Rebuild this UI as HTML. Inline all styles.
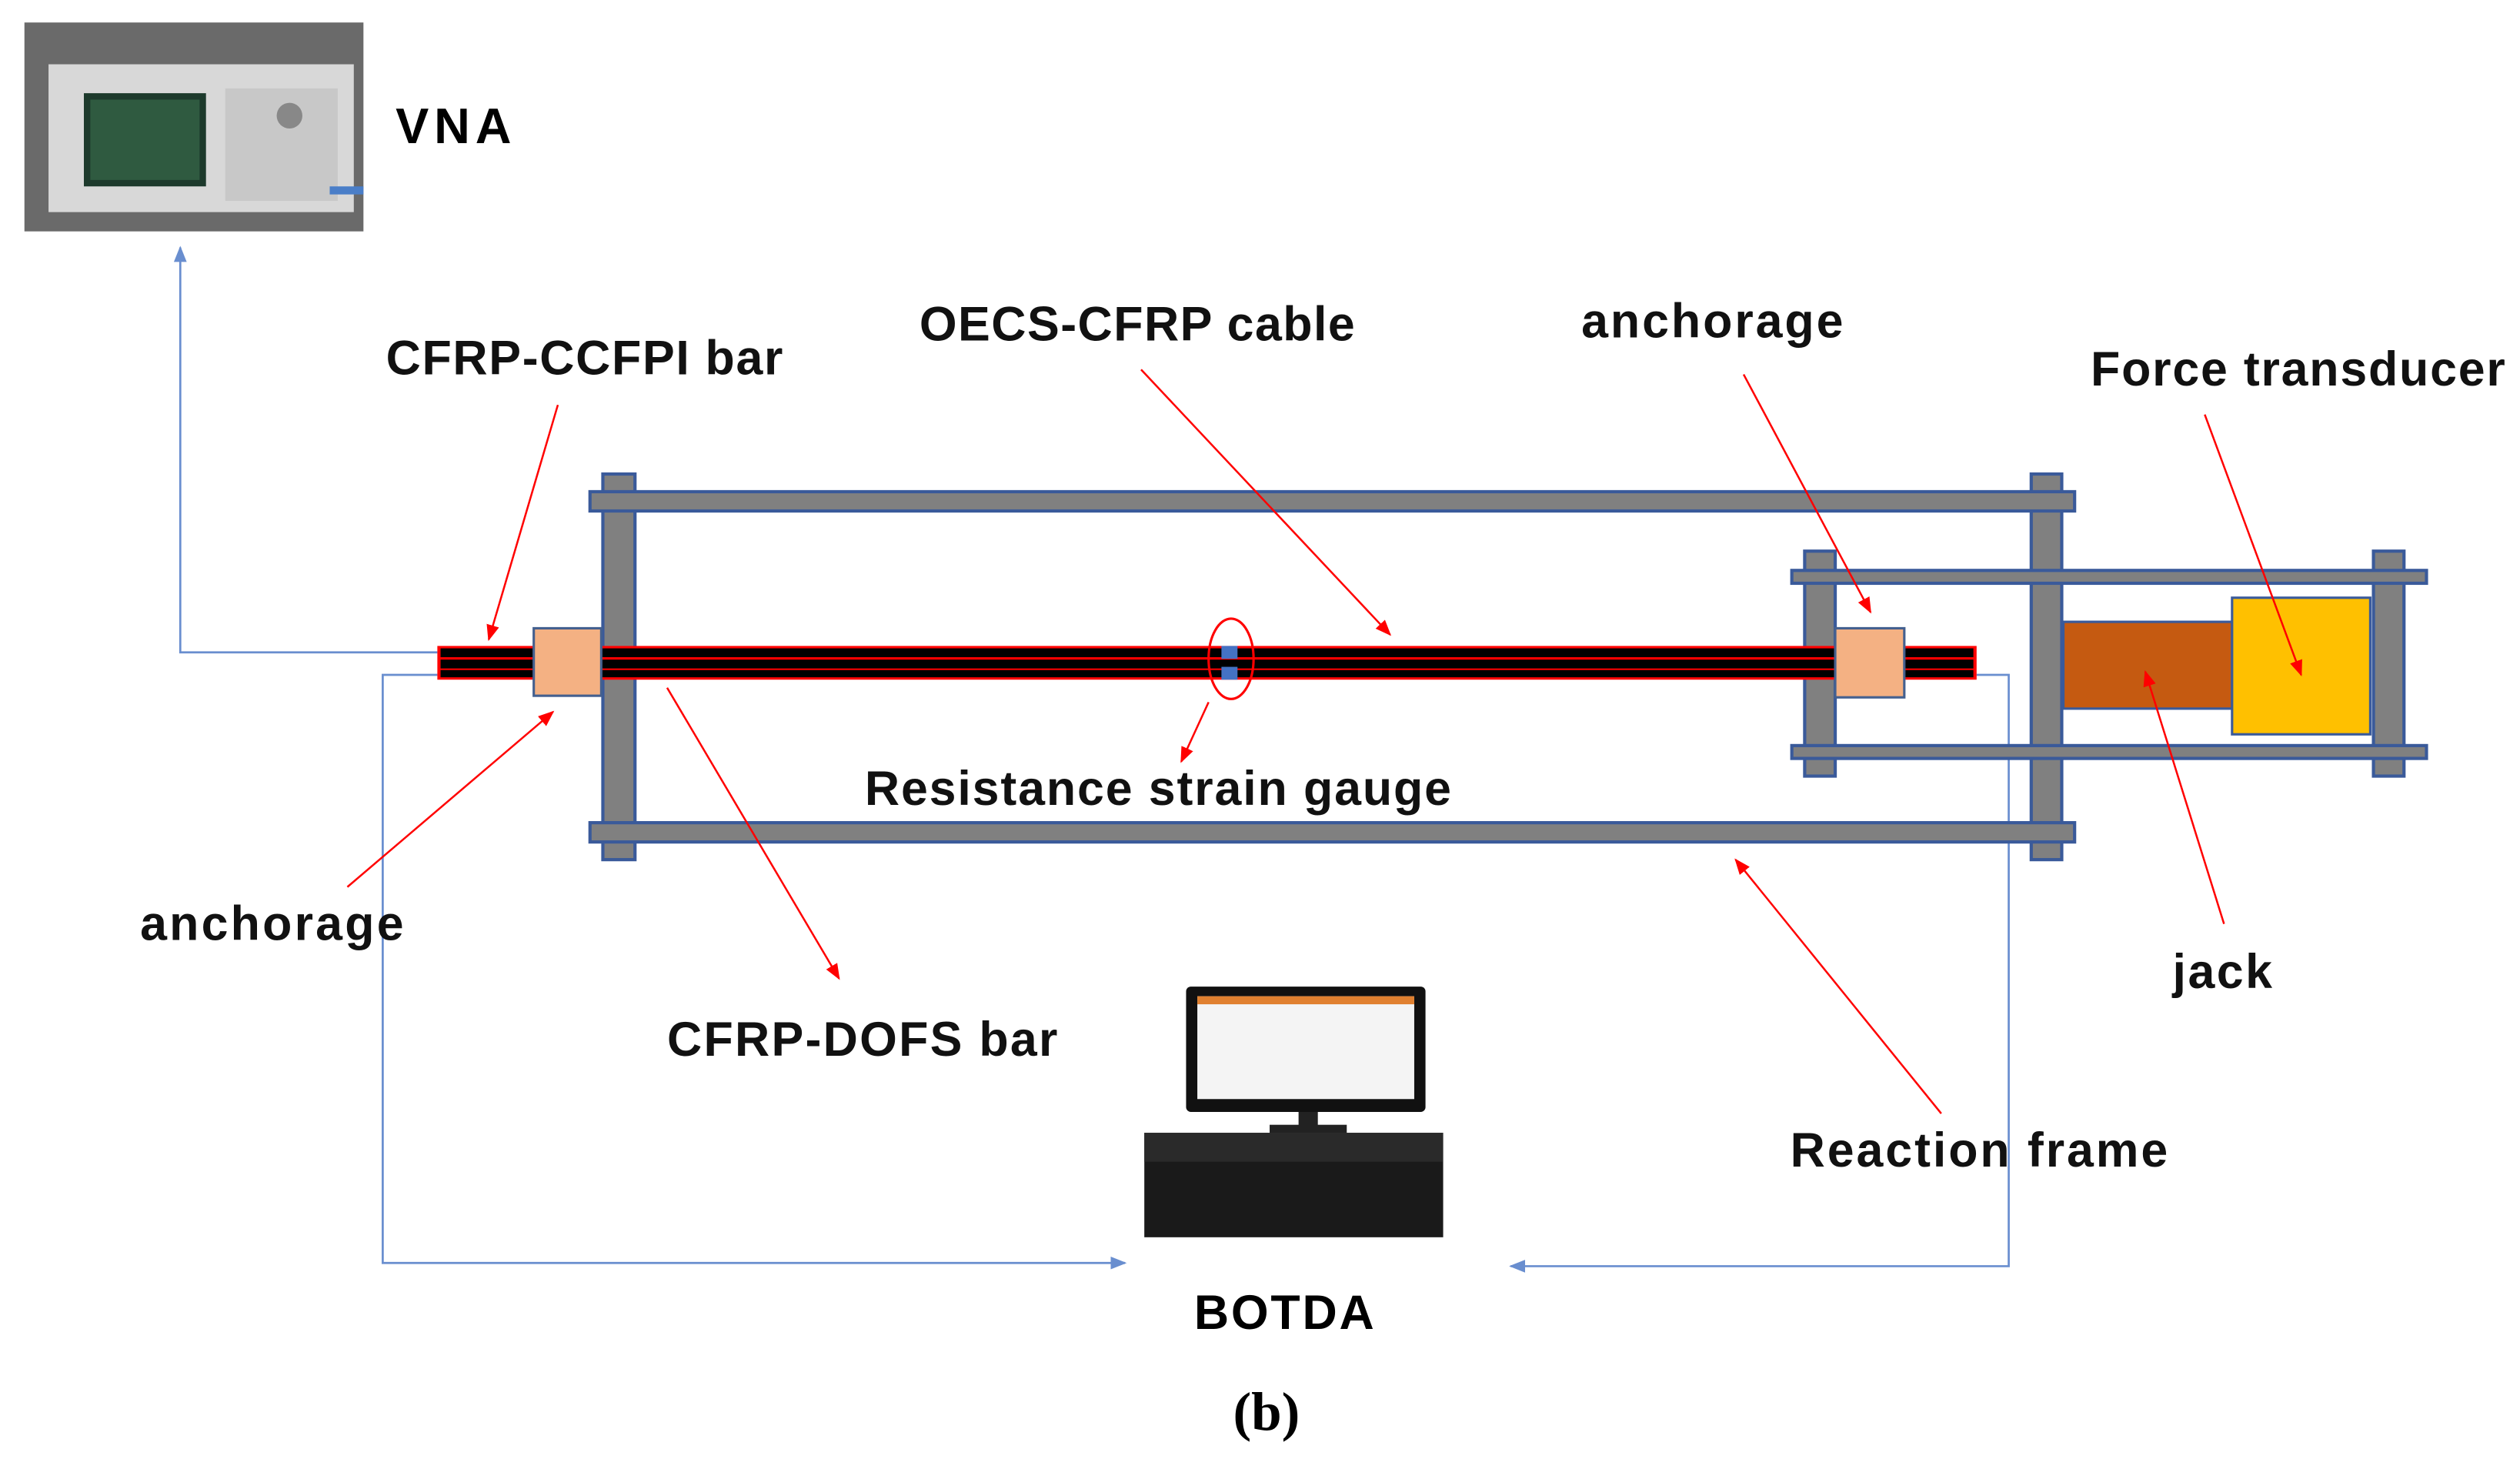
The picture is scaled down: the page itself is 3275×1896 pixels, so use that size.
<!DOCTYPE html>
<html><head><meta charset="utf-8"><style>html,body{margin:0;padding:0;background:#fff;}svg{display:block}</style></head>
<body>
<svg width="3275" height="1896" viewBox="0 0 1568 908" xmlns="http://www.w3.org/2000/svg">
<defs>
<marker id="ra" markerWidth="10" markerHeight="10" refX="9" refY="5" orient="auto" markerUnits="userSpaceOnUse"><path d="M0,1 L10,5 L0,9 z" fill="#f00"/></marker>
<marker id="ba" markerWidth="10" markerHeight="10" refX="9" refY="5" orient="auto" markerUnits="userSpaceOnUse"><path d="M0,1 L10,5 L0,9 z" fill="#4472c4"/></marker>
</defs>
<rect width="1568" height="908" fill="#fff"/>
<!-- VNA -->
<rect x="15" y="14" width="211" height="130" fill="#6a6a6a"/>
<rect x="30" y="40" width="190" height="92" fill="#d8d8d8"/>
<rect x="52" y="58" width="76" height="58" fill="#1d3a2c"/>
<rect x="56" y="62" width="68" height="50" fill="#2f5a40"/>
<rect x="140" y="55" width="70" height="70" fill="#c8c8c8"/>
<circle cx="180" cy="72" r="8" fill="#888"/>
<rect x="205" y="116" width="21" height="5" fill="#4a7ec8"/>
<text x="246" y="89" font-family="Liberation Sans, sans-serif" font-weight="600" font-size="31" textLength="72">VNA</text>
<!-- blue connectors -->
<g fill="none" stroke="#4472c4" stroke-width="1.3" opacity="0.8">
<polyline points="272,406 112,406 112,154" marker-end="url(#ba)"/>
<polyline points="272,420 238,420 238,786 700,786" marker-end="url(#ba)"/>
<polyline points="1230,420 1250,420 1250,788 940,788" marker-end="url(#ba)"/>
</g>
<!-- main frame -->
<g fill="#808080" stroke="#3a5a9a" stroke-width="2">
<rect x="375" y="295" width="20" height="240"/>
<rect x="1264" y="295" width="19" height="240"/>
<rect x="367" y="306" width="924" height="12"/>
<rect x="367" y="512" width="924" height="12"/>
<rect x="1123" y="343" width="19" height="140"/>
<rect x="1477" y="343" width="19" height="140"/>
<rect x="1115" y="355" width="395" height="8"/>
<rect x="1115" y="464" width="395" height="8"/>
</g>
<!-- bar -->
<rect x="272" y="402" width="958" height="21" fill="#f00"/>
<rect x="274" y="403.5" width="954" height="5.5" fill="#000"/>
<rect x="274" y="410.5" width="954" height="5.5" fill="#000"/>
<rect x="274" y="417" width="954" height="4.5" fill="#000"/>
<rect x="760" y="402" width="10" height="8" fill="#4472c4"/>
<rect x="760" y="415" width="10" height="8" fill="#4472c4"/>
<ellipse cx="766" cy="410" rx="14" ry="25" fill="none" stroke="#f00" stroke-width="1.5"/>
<!-- anchorages -->
<rect x="332" y="391" width="42" height="42" fill="#f4b183" stroke="#44608f" stroke-width="1.5"/>
<rect x="1142" y="391" width="43" height="43" fill="#f4b183" stroke="#44608f" stroke-width="1.5"/>
<!-- jack / force -->
<rect x="1284" y="387" width="105" height="54" fill="#c55a11" stroke="#3a5a9a" stroke-width="1.5"/>
<rect x="1389" y="372" width="86" height="85" fill="#ffc000" stroke="#3a5a9a" stroke-width="1.5"/>
<!-- BOTDA computer -->
<rect x="738" y="614" width="149" height="78" rx="3" fill="#111"/>
<rect x="745" y="620" width="135" height="64" fill="#f4f4f4"/>
<rect x="745" y="620" width="135" height="5" fill="#e08030"/>
<rect x="808" y="692" width="12" height="10" fill="#222"/>
<rect x="790" y="700" width="48" height="5" fill="#222"/>
<rect x="712" y="705" width="186" height="65" fill="#1a1a1a"/>
<rect x="712" y="705" width="186" height="18" fill="#2a2a2a"/>
<text x="799" y="827" font-family="Liberation Sans, sans-serif" font-weight="600" font-size="30" text-anchor="middle" textLength="112">BOTDA</text>
<!-- red arrows -->
<g stroke="#f00" stroke-width="1.2" fill="none">
<line x1="347" y1="252" x2="304" y2="398" marker-end="url(#ra)"/>
<line x1="710" y1="230" x2="865" y2="395" marker-end="url(#ra)"/>
<line x1="1085" y1="233" x2="1164" y2="381" marker-end="url(#ra)"/>
<line x1="1372" y1="258" x2="1432" y2="420" marker-end="url(#ra)"/>
<line x1="1384" y1="575" x2="1335" y2="418" marker-end="url(#ra)"/>
<line x1="1208" y1="693" x2="1080" y2="535" marker-end="url(#ra)"/>
<line x1="415" y1="428" x2="522" y2="609" marker-end="url(#ra)"/>
<line x1="216" y1="552" x2="344" y2="443" marker-end="url(#ra)"/>
<line x1="752" y1="437" x2="735" y2="474" marker-end="url(#ra)"/>
</g>
<!-- labels -->
<g font-family="Liberation Sans, sans-serif" font-weight="600" font-size="30" fill="#111">
<text x="240" y="233" textLength="247">CFRP-CCFPI bar</text>
<text x="572" y="212" textLength="271">OECS-CFRP cable</text>
<text x="984" y="210" textLength="163">anchorage</text>
<text x="1301" y="240" textLength="258">Force transducer</text>
<text x="538" y="501" textLength="365">Resistance strain gauge</text>
<text x="87" y="585" textLength="164">anchorage</text>
<text x="1352" y="615" textLength="62">jack</text>
<text x="415" y="657" textLength="243">CFRP-DOFS bar</text>
<text x="1114" y="726" textLength="235">Reaction frame</text>
</g>
<text x="788" y="890" font-family="Liberation Serif, serif" font-weight="bold" font-size="34" text-anchor="middle">(b)</text>
</svg>
</body></html>
